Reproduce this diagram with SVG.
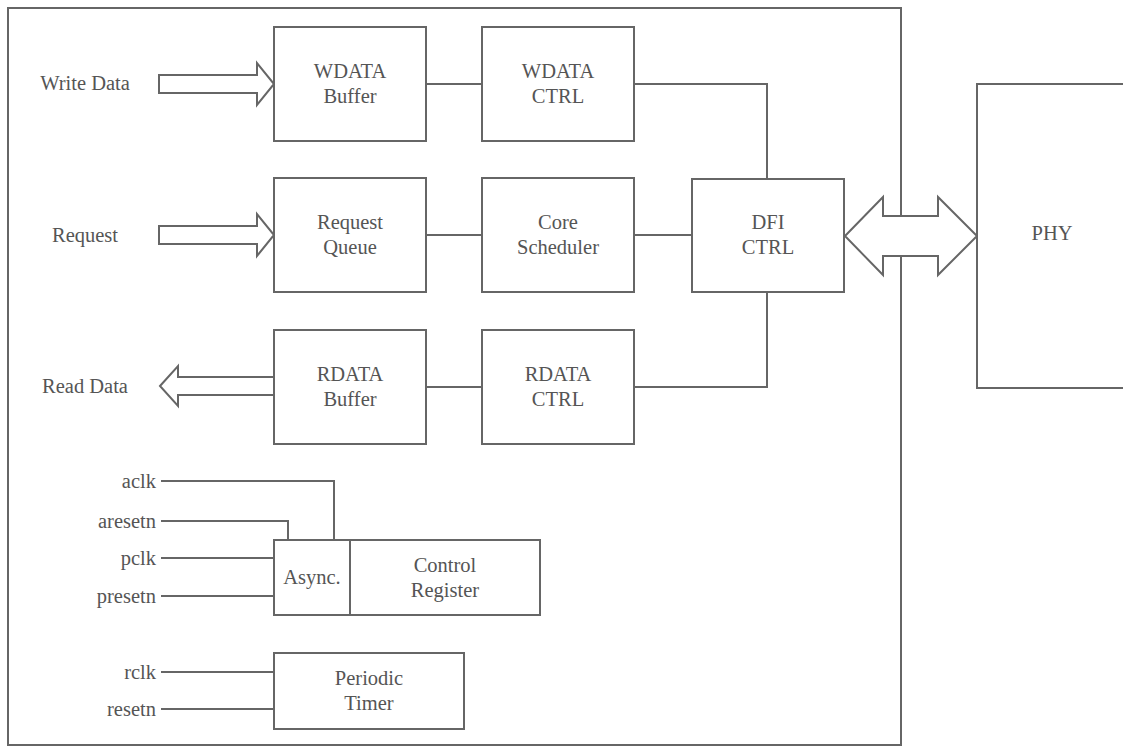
<svg xmlns="http://www.w3.org/2000/svg" width="1123" height="747" viewBox="0 0 1123 747">
<style>
.box{fill:#fff;stroke:#666;stroke-width:2}
.ln{fill:none;stroke:#666;stroke-width:2}
.arr{fill:#fff;stroke:#666;stroke-width:2;stroke-linejoin:miter}
text{font-family:"Liberation Serif","Times New Roman",serif;font-size:20.5px;fill:#555;dominant-baseline:central}
.c{text-anchor:middle}
.r{text-anchor:end}
</style>
<rect width="1123" height="747" fill="#fff"/>
<g id="outer"><rect class="box" x="8" y="8" width="893" height="737"/></g>
<g id="connectors">
<line class="ln" x1="426" y1="84" x2="482" y2="84"/>
<line class="ln" x1="426" y1="235" x2="482" y2="235"/>
<line class="ln" x1="634" y1="235" x2="692" y2="235"/>
<line class="ln" x1="426" y1="387" x2="482" y2="387"/>
<polyline class="ln" points="634,84 767,84 767,179"/>
<polyline class="ln" points="634,387 767,387 767,292"/>
<polyline class="ln" points="161,481 334,481 334,540"/>
<polyline class="ln" points="161,521 288,521 288,540"/>
<line class="ln" x1="161" y1="558" x2="274" y2="558"/>
<line class="ln" x1="161" y1="596" x2="274" y2="596"/>
<line class="ln" x1="161" y1="672" x2="274" y2="672"/>
<line class="ln" x1="161" y1="709" x2="274" y2="709"/>
<polygon class="arr" points="159,75 257,75 257,63 274,84 257,105 257,93 159,93"/>
<polygon class="arr" points="159,226 257,226 257,214 274,235 257,256 257,244 159,244"/>
<polygon class="arr" points="160,386 178,366 178,377 274,377 274,395 178,395 178,406"/>
<polygon class="arr" points="845,236 883,197 883,216 938,216 938,197 977,236 938,275 938,256 883,256 883,275"/>
</g>
<g id="labels">
<text class="c" x="85" y="83">Write Data</text>
<text class="c" x="85" y="235">Request</text>
<text class="c" x="85" y="386">Read Data</text>
<text class="r" x="156" y="481">aclk</text>
<text class="r" x="156" y="521">aresetn</text>
<text class="r" x="156" y="558">pclk</text>
<text class="r" x="156" y="596">presetn</text>
<text class="r" x="156" y="672">rclk</text>
<text class="r" x="156" y="709">resetn</text>
</g>
<g id="wdata-buffer"><rect class="box" x="274" y="27" width="152" height="114"/><text class="c" x="350" y="71">WDATA</text><text class="c" x="350" y="96">Buffer</text></g>
<g id="wdata-ctrl"><rect class="box" x="482" y="27" width="152" height="114"/><text class="c" x="558" y="71">WDATA</text><text class="c" x="558" y="96">CTRL</text></g>
<g id="request-queue"><rect class="box" x="274" y="178" width="152" height="114"/><text class="c" x="350" y="222">Request</text><text class="c" x="350" y="247">Queue</text></g>
<g id="core-scheduler"><rect class="box" x="482" y="178" width="152" height="114"/><text class="c" x="558" y="222">Core</text><text class="c" x="558" y="247">Scheduler</text></g>
<g id="dfi-ctrl"><rect class="box" x="692" y="179" width="152" height="113"/><text class="c" x="768" y="222">DFI</text><text class="c" x="768" y="247">CTRL</text></g>
<g id="rdata-buffer"><rect class="box" x="274" y="330" width="152" height="114"/><text class="c" x="350" y="374">RDATA</text><text class="c" x="350" y="399">Buffer</text></g>
<g id="rdata-ctrl"><rect class="box" x="482" y="330" width="152" height="114"/><text class="c" x="558" y="374">RDATA</text><text class="c" x="558" y="399">CTRL</text></g>
<g id="phy"><rect class="box" x="977" y="84" width="160" height="304"/><text class="c" x="1052" y="233">PHY</text></g>
<g id="async"><rect class="box" x="274" y="540" width="76" height="75"/><text class="c" x="312" y="577">Async.</text></g>
<g id="control-register"><rect class="box" x="350" y="540" width="190" height="75"/><text class="c" x="445" y="565">Control</text><text class="c" x="445" y="590">Register</text></g>
<g id="periodic-timer"><rect class="box" x="274" y="653" width="190" height="76"/><text class="c" x="369" y="678">Periodic</text><text class="c" x="369" y="703">Timer</text></g>
</svg>
